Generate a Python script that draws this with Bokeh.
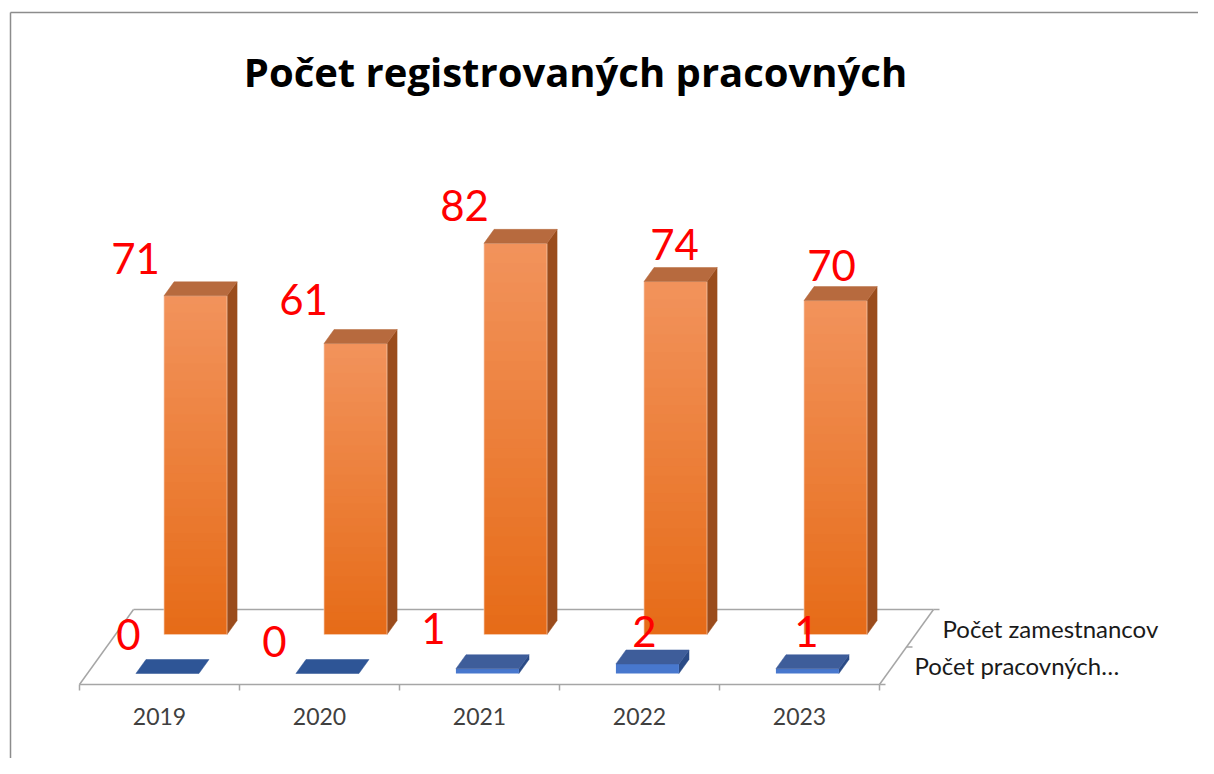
import numpy as np
from bokeh.plotting import figure
from bokeh.models import Range1d, ColumnDataSource
from bokeh.core.properties import value
from bokeh.embed import file_html
from bokeh.resources import INLINE

# ---------------- data ----------------
title_text = "Počet registrovaných pracovných"
years = ["2019", "2020", "2021", "2022", "2023"]
series_names = ["Počet zamestnancov", "Počet pracovných…"]
zamestnancov = [71, 61, 82, 74, 70]
pracovnych = [0, 0, 1, 2, 1]

# ---------------- style / geometry ----------------
W, H = 1198, 758
PXC = 160.0      # px per category
PXU = 4.77       # px per value unit
OX, OY = 195, 634  # frame px of (category 0, value 0) for the back row
SLANT = 0.72
HALF_W = 31.5    # half bar width, px
DEPTH = 14       # bar depth, px
Z_FRONT_ROW = 39
Z_FLOOR_BACK, Z_FLOOR_FRONT = -25, 50

# label nudges (px): dx relative to bar centre, rise above bar top
back_lab_dx = [-60, -52, -51, -1, -4]
back_lab_rise = [37, 44, 38, 37, 35]
front_lab_dx = [-39, -53, -54, -3, -1]
front_lab_rise = [39, 32, 40, 32, 37]

FONT = value("Lato")
TFONT = value("Open Sans")


def dx(px):
    return px / PXC


def dy(px):
    return px / PXU


def proj(z):
    """shift (data units) of a point moved z px toward the viewer"""
    return (-SLANT * z / PXC, -z / PXU)


def frame_to_data(fx, fy):
    return ((fx - OX) / PXC, (OY - fy) / PXU)


def lerp_hex(c1, c2, t):
    a = [int(c1[i:i + 2], 16) for i in (1, 3, 5)]
    b = [int(c2[i:i + 2], 16) for i in (1, 3, 5)]
    return "#%02x%02x%02x" % tuple(int(round(a[k] + (b[k] - a[k]) * t)) for k in range(3))


p = figure(width=W, height=H,
           x_range=Range1d(-OX / PXC, (W - OX) / PXC),
           y_range=Range1d(-(H - OY) / PXU, OY / PXU),
           output_backend="svg", toolbar_location=None,
           x_axis_location=None, y_axis_location=None, min_border=0)
p.grid.visible = False
p.outline_line_color = None
p.background_fill_color = "white"
p.border_fill_color = "white"

# ---------------- chart border ----------------
bx0, by0 = frame_to_data(10, 12)
bx1, by1 = frame_to_data(W + 20, H + 20)
p.segment(x0=[bx0, bx0], y0=[by0, by0], x1=[bx1, bx0], y1=[by0, by1],
          line_color="#8c8c8c", line_width=1.5)

# ---------------- title ----------------
tx, ty = frame_to_data(575, 71)
p.text(x=[tx], y=[ty], text=[title_text], text_font=TFONT, text_font_size="40px",
       text_font_style="bold", text_color="#000000", text_align="center",
       text_baseline="alphabetic")

# ---------------- floor ----------------
n = len(years)
gcol = "#a6a6a6"
bxs, bys = proj(Z_FLOOR_BACK)
fxs, fys = proj(Z_FLOOR_FRONT)
left, right = -0.5, n - 0.5
fl_x0 = [left + bxs, left + bxs, right + bxs, left + fxs]
fl_y0 = [bys, bys, bys, fys]
fl_x1 = [right + bxs, left + fxs, right + fxs, right + fxs]
fl_y1 = [bys, fys, fys, fys]
p.segment(x0=fl_x0, y0=fl_y0, x1=fl_x1, y1=fl_y1, line_color=gcol, line_width=1.5)
# ticks on the category axis
tk = [k - 0.5 + fxs for k in range(n + 1)]
p.segment(x0=tk, y0=[fys] * (n + 1), x1=tk, y1=[fys - dy(6)] * (n + 1),
          line_color=gcol, line_width=1.5)
# ticks on the depth axis
zt = [Z_FLOOR_BACK, (Z_FLOOR_BACK + Z_FLOOR_FRONT) / 2, Z_FLOOR_FRONT]
dtx = [right + proj(z)[0] for z in zt]
dty = [proj(z)[1] for z in zt]
p.segment(x0=dtx, y0=dty, x1=[x + dx(6) for x in dtx], y1=dty,
          line_color=gcol, line_width=1.5)


# ---------------- bars ----------------
def draw_bars(vals, z, front_top, front_bot, side_col, top_col, edge_col, zero_col):
    sx_, sy_ = proj(z)
    ddx, ddy = proj(-DEPTH)
    tops_x, tops_y, tops_c = [], [], []
    sides_x, sides_y = [], []
    strips = dict(left=[], right=[], bottom=[], top=[], color=[])
    outline = dict(left=[], right=[], bottom=[], top=[])
    for i, v in enumerate(vals):
        xl = i + sx_ - dx(HALF_W)
        xr = i + sx_ + dx(HALF_W)
        y0 = sy_
        y1 = sy_ + v
        tops_x.append([xl, xr, xr + ddx, xl + ddx])
        tops_y.append([y1, y1, y1 + ddy, y1 + ddy])
        tops_c.append(top_col if v > 0 else zero_col)
        if v > 0:
            sides_x.append([xr, xr + ddx, xr + ddx, xr])
            sides_y.append([y0, y0 + ddy, y1 + ddy, y1])
            N = max(1, min(40, int(v * PXU / 6)))
            for k in range(N):
                strips["left"].append(xl)
                strips["right"].append(xr)
                strips["bottom"].append(y0 + v * k / N)
                strips["top"].append(min(y1, y0 + v * (k + 1) / N + dy(1.2)))
                strips["color"].append(lerp_hex(front_bot, front_top, (k + 0.5) / N))
            outline["left"].append(xl)
            outline["right"].append(xr)
            outline["bottom"].append(y0)
            outline["top"].append(y1)
    if sides_x:
        p.patches(xs=sides_x, ys=sides_y, fill_color=side_col, line_color=side_col, line_width=0.5)
    if strips["left"]:
        p.quad(source=ColumnDataSource(strips), left="left", right="right",
               bottom="bottom", top="top", fill_color="color", line_color=None)
        if edge_col is not None:
            p.quad(source=ColumnDataSource(outline), left="left", right="right",
                   bottom="bottom", top="top", fill_color=None, line_color=edge_col,
                   line_width=1, line_alpha=0.7)
    p.patches(xs=tops_x, ys=tops_y, fill_color=tops_c, line_color=tops_c, line_width=0.5)


draw_bars(zamestnancov, 0, "#f2935c", "#e66b17", "#9a4c1c", "#b76a3e", "#f8cdb3", "#b76a3e")
draw_bars(pracovnych, Z_FRONT_ROW, "#4674c6", "#4a7dd6", "#2b4b86", "#3e5d9a", None, "#2e5596")

# ---------------- value labels ----------------
fsx, fsy = proj(Z_FRONT_ROW)
lab = dict(x=[], y=[], t=[])
for i, v in enumerate(zamestnancov):
    lab["x"].append(i + dx(back_lab_dx[i]))
    lab["y"].append(v + dy(back_lab_rise[i]))
    lab["t"].append(str(v))
for i, v in enumerate(pracovnych):
    lab["x"].append(i + fsx + dx(front_lab_dx[i]))
    lab["y"].append(fsy + v + dy(front_lab_rise[i]))
    lab["t"].append(str(v))
p.text(source=ColumnDataSource(lab), x="x", y="y", text="t", text_font=FONT,
       text_font_size="42px", text_color="#ff0000", text_align="center",
       text_baseline="middle")

# ---------------- category labels ----------------
p.text(x=[i + fxs for i in range(n)], y=[fys - dy(32)] * n, text=years,
       text_font=FONT, text_font_size="23px", text_color="#404040",
       text_align="center", text_baseline="middle")

# ---------------- series labels ----------------
sl_x = [right + proj(0)[0] + dx(27), right + proj(Z_FRONT_ROW)[0] + dx(27)]
sl_y = [proj(0)[1] + dy(6), proj(Z_FRONT_ROW)[1] + dy(8)]
p.text(x=sl_x, y=sl_y, text=series_names, text_font=FONT, text_font_size="24px",
       text_color="#1a1a1a", text_align="left", text_baseline="middle")

open("out.html", "w").write(file_html(p, INLINE))
